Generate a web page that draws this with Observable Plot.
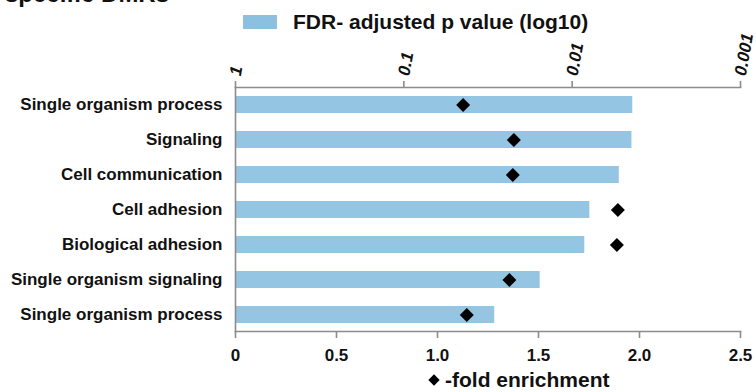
<!DOCTYPE html>
<html>
<head>
<meta charset="utf-8">
<script src="https://cdn.jsdelivr.net/npm/d3@7"></script>
<script src="https://cdn.jsdelivr.net/npm/@observablehq/plot@0.6"></script>
<style>
  html, body { margin: 0; padding: 0; background: #fff; }
  #wrap { position: relative; width: 756px; height: 392px; overflow: hidden;
          font-family: "Liberation Sans", Arial, sans-serif; color: #111; }
  #title { position: absolute; left: 5px; top: -18px; font-size: 24px; line-height: 24px; font-weight: bold; white-space: nowrap; }
  #legTop { position: absolute; left: 243px; top: 10px; display: flex; align-items: center; font-size: 21px; font-weight: bold; white-space: nowrap; }
  #legTop .sw { width: 34px; height: 14px; background: #8cc0e0; margin-right: 16px; }
  #legBot { position: absolute; left: 428px; top: 368px; display: flex; align-items: center; font-size: 21px; font-weight: bold; white-space: nowrap; }
  #legBot .dm { width: 8px; height: 8px; background: #000; transform: rotate(45deg); margin: 0 7px 0 2px; }
  #chart { position: absolute; left: 0; top: 0; }
</style>
</head>
<body>
<div id="wrap">
  <div id="title">specific DMRs</div>
  <div id="legTop"><div class="sw"></div><span>FDR- adjusted p value (log10)</span></div>
  <div id="chart"></div>
  <div id="legBot"><div class="dm"></div><span>-fold enrichment</span></div>
</div>
<script>
// Categories (top to bottom)
const categories = [
  "Single organism process",
  "Signaling",
  "Cell communication",
  "Cell adhesion",
  "Biological adhesion",
  "Single organism signaling",
  "Single organism process"
];
const negLog10FDR = [2.36, 2.355, 2.28, 2.105, 2.075, 1.81, 1.54];
const foldEnrichment = [1.127, 1.378, 1.373, 1.893, 1.888, 1.356, 1.145];
// bottom axis ticks
const foldTicks = [0, 0.5, 1.0, 1.5, 2.0, 2.5];
const foldTickLabels = ["0", "0.5", "1.0", "1.5", "2.0", "2.5"];
// top axis ticks (decades of p)
const pDecades = [0, 1, 2, 3];
const pTickLabels = ["1", "0.1", "0.01", "0.001"];

// The top (p value) axis spans 3 decades over the same width as 0–2.5 fold.
const foldMax = 2.5;
const decadeMax = 3;
const toFold = d => d * foldMax / decadeMax;

const rows = categories.map((c, i) => ({
  idx: i,
  bar: toFold(negLog10FDR[i]),
  fold: foldEnrichment[i]
}));

const axisColor = "#8c8c8c";

const plot = Plot.plot({
  width: 756,
  height: 392,
  marginTop: 87,
  marginBottom: 61,
  marginLeft: 235,
  marginRight: 16,
  style: { fontFamily: "'Liberation Sans', Arial, sans-serif", color: "#111", background: "transparent" },
  x: { domain: [0, foldMax] },
  y: { type: "band", domain: d3.range(categories.length), paddingInner: 0.52, paddingOuter: 0.24 },
  marks: [
    Plot.barX(rows, { x: "bar", y: "idx", fill: "#94c5e3" }),
    Plot.frame({ anchor: "top", stroke: axisColor, strokeWidth: 1.6 }),
    Plot.frame({ anchor: "bottom", stroke: axisColor, strokeWidth: 1.6 }),
    Plot.frame({ anchor: "left", stroke: axisColor, strokeWidth: 1.6 }),
    Plot.dot(rows, { x: "fold", y: "idx", symbol: "diamond2", r: 6.3, fill: "#000", stroke: "none" }),
    Plot.axisX({
      anchor: "bottom", ticks: foldTicks, tickFormat: (d, i) => foldTickLabels[i],
      tickSize: 7, tickPadding: 10, stroke: axisColor, strokeWidth: 1.6, fill: "#111",
      fontSize: 17, fontWeight: "bold", label: null
    }),
    Plot.axisX({
      anchor: "top", ticks: pDecades.map(toFold), tickFormat: (d, i) => pTickLabels[i],
      tickSize: 7, tickPadding: 5, tickRotate: -80, stroke: axisColor, strokeWidth: 1.6, fill: "#111",
      fontSize: 17, fontWeight: "bold", fontStyle: "italic", label: null
    }),
    Plot.axisY({
      tickSize: 0, tickPadding: 13, tickFormat: i => categories[i], fill: "#111",
      fontSize: 17, fontWeight: "bold", label: null
    })
  ]
});
document.getElementById("chart").appendChild(plot);
</script>
</body>
</html>
